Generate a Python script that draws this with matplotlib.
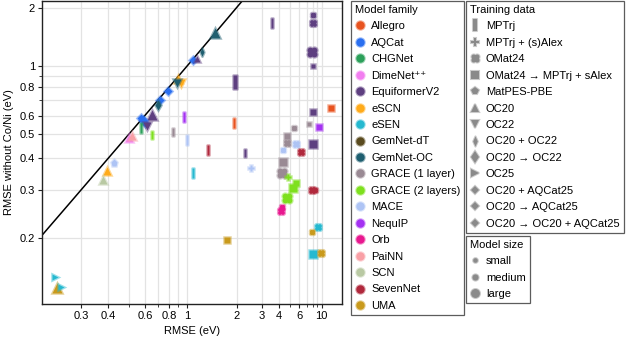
import numpy as np
import matplotlib
matplotlib.use('Agg')
import matplotlib.pyplot as plt
from matplotlib.path import Path
from matplotlib.lines import Line2D
from matplotlib.colors import to_rgba
import matplotlib.ticker as mticker

plt.rcParams['font.family'] = ['Liberation Sans', 'DejaVu Sans']
plt.rcParams['font.size'] = 8

# ---------------- data ----------------
families = ['Allegro', 'AQCat', 'CHGNet', 'DimeNet\u207a\u207a', 'EquiformerV2', 'eSCN', 'eSEN',
            'GemNet-dT', 'GemNet-OC', 'GRACE (1 layer)', 'GRACE (2 layers)', 'MACE',
            'NequIP', 'Orb', 'PaiNN', 'SCN', 'SevenNet', 'UMA']
family_colors = ['#e8531f', '#2a6ff0', '#2ca05a', '#f27ef0', '#5e3f80', '#ffab1a', '#25b9d0',
                 '#5a4b1f', '#1f5f70', '#9a8a94', '#7ee01e', '#aec4f5',
                 '#a431f2', '#e8188f', '#f9a0a6', '#b9c9a3', '#b0283c', '#c99a1c']

training_sets = ['MPTrj', 'MPTrj + (s)Alex', 'OMat24', 'OMat24 \u2192 MPTrj + sAlex', 'MatPES-PBE',
                 'OC20', 'OC22', 'OC20 + OC22', 'OC20 \u2192 OC22', 'OC25', 'OC20 + AQCat25',
                 'OC20 \u2192 AQCat25', 'OC20 \u2192 OC20 + AQCat25']
model_sizes = ['small', 'medium', 'large']

pt_family = ['GemNet-OC', 'GemNet-OC', 'AQCat', 'EquiformerV2', 'eSCN', 'eSCN', 'GemNet-OC',
             'AQCat', 'AQCat', 'GemNet-OC', 'EquiformerV2', 'AQCat', 'AQCat', 'AQCat',
             'EquiformerV2', 'CHGNet', 'GRACE (2 layers)', 'DimeNet\u207a\u207a', 'PaiNN', 'MACE',
             'eSCN', 'SCN', 'eSEN', 'UMA', 'eSEN',
             'EquiformerV2', 'EquiformerV2', 'EquiformerV2', 'EquiformerV2', 'EquiformerV2',
             'EquiformerV2', 'Allegro', 'EquiformerV2', 'NequIP', 'Allegro', 'GRACE (1 layer)',
             'NequIP', 'GRACE (1 layer)', 'GRACE (1 layer)', 'GRACE (1 layer)', 'GRACE (1 layer)',
             'MACE', 'MACE', 'SevenNet', 'EquiformerV2', 'SevenNet', 'MACE', 'EquiformerV2',
             'MACE', 'GRACE (1 layer)', 'eSEN', 'GRACE (1 layer)', 'GRACE (2 layers)',
             'GRACE (2 layers)', 'GRACE (2 layers)', 'SevenNet', 'SevenNet', 'GRACE (2 layers)',
             'Orb', 'Orb', 'eSEN', 'UMA', 'UMA', 'eSEN', 'UMA']
pt_data = ['OC20', 'OC20 + OC22', 'OC20 \u2192 AQCat25', 'OC20', 'OC20', 'OC22', 'OC22',
           'OC20 + AQCat25', 'OC20 + AQCat25', 'OC20 \u2192 OC22', 'OC20',
           'OC20 \u2192 OC20 + AQCat25', 'OC20 \u2192 AQCat25', 'OC20 + AQCat25',
           'OC22', 'MPTrj', 'MPTrj', 'OC20', 'OC20', 'MatPES-PBE',
           'OC20', 'OC20', 'OC25', 'OC20', 'OC25',
           'MPTrj', 'OMat24', 'OMat24', 'OMat24', 'OMat24 \u2192 MPTrj + sAlex',
           'MPTrj', 'OMat24 \u2192 MPTrj + sAlex', 'OMat24 \u2192 MPTrj + sAlex', 'MPTrj', 'MPTrj',
           'OMat24 \u2192 MPTrj + sAlex',
           'OMat24 \u2192 MPTrj + sAlex', 'OMat24', 'MPTrj', 'OMat24 \u2192 MPTrj + sAlex', 'OMat24',
           'OMat24', 'MPTrj', 'MPTrj', 'OMat24 \u2192 MPTrj + sAlex', 'OMat24', 'OMat24', 'MPTrj',
           'MPTrj + (s)Alex', 'OMat24 \u2192 MPTrj + sAlex', 'MPTrj', 'OMat24', 'MPTrj + (s)Alex',
           'OMat24 \u2192 MPTrj + sAlex', 'OMat24 \u2192 MPTrj + sAlex', 'OMat24', 'OMat24', 'OMat24',
           'OMat24', 'OMat24', 'OMat24', 'OMat24', 'OMat24 \u2192 MPTrj + sAlex',
           'OMat24 \u2192 MPTrj + sAlex', 'OMat24']
pt_size = ['large', 'medium', 'medium', 'small', 'medium', 'medium', 'medium',
           'medium', 'medium', 'medium', 'large', 'medium', 'medium', 'medium',
           'medium', 'medium', 'small', 'medium', 'medium', 'medium',
           'medium', 'medium', 'medium', 'large', 'medium',
           'medium', 'small', 'medium', 'large', 'small',
           'large', 'medium', 'medium', 'medium', 'medium', 'small',
           'medium', 'small', 'small', 'medium', 'medium',
           'medium', 'medium', 'medium', 'large', 'medium', 'small', 'small',
           'medium', 'large', 'medium', 'large', 'medium',
           'large', 'medium', 'medium', 'small', 'large',
           'medium', 'small', 'medium', 'small', 'medium', 'large', 'medium']
rmse = [1.46, 1.22, 1.08, 1.14, 0.90, 0.93, 0.88,
        0.795, 0.717, 0.70, 0.649, 0.59, 0.60, 0.575,
        0.614, 0.575, 0.649, 0.50, 0.52, 0.427,
        0.392, 0.376, 0.231, 0.235, 0.245,
        3.54, 8.04, 8.04, 7.9, 8.16,
        1.95, 12.8, 8.04, 0.97, 1.93, 7.43,
        9.33, 5.37, 0.84, 4.65, 4.65,
        5.57, 1.0, 1.33, 8.04, 6.17, 4.32, 2.28,
        2.5, 4.32, 1.08, 4.27, 4.81,
        5.31, 5.6, 7.9, 8.4, 4.65,
        4.19, 4.25, 9.2, 7.9, 1.73, 8.04, 9.84]
rmse_wo = [1.46, 1.175, 1.07, 1.09, 0.87, 0.835, 0.84,
           0.773, 0.70, 0.666, 0.604, 0.575, 0.56, 0.585,
           0.542, 0.53, 0.497, 0.482, 0.49, 0.384,
           0.357, 0.327, 0.146, 0.1336, 0.1347,
           1.64, 1.82, 1.64, 1.175, 1.0,
           0.847, 0.65, 0.623, 0.594, 0.56, 0.551,
           0.534, 0.53, 0.509, 0.492, 0.459,
           0.457, 0.474, 0.43, 0.457, 0.424, 0.43, 0.418,
           0.364, 0.387, 0.348, 0.348, 0.338,
           0.305, 0.32, 0.30, 0.30, 0.279,
           0.251, 0.258, 0.218, 0.209, 0.197, 0.175, 0.176]

x_major = [0.3, 0.4, 0.6, 0.8, 1, 2, 3, 4, 6, 10]
x_minor = [0.5, 0.7, 0.9, 5, 7, 8, 9]
y_major = [0.2, 0.3, 0.4, 0.5, 0.6, 0.8, 1, 2]
y_minor = [0.7, 0.9]

# ---------------- styles ----------------
bar_path = Path([(-0.3, -1), (0.3, -1), (0.3, 1), (-0.3, 1), (-0.3, -1)],
                [Path.MOVETO, Path.LINETO, Path.LINETO, Path.LINETO, Path.CLOSEPOLY])
lobes = []
for ang in [45, 135, 225, 315]:
    a = np.deg2rad(ang)
    lobes.append(Path.circle((0.45 * np.cos(a), 0.45 * np.sin(a)), 0.42))
lobes.append(Path.circle((0, 0), 0.45))
quad_path = Path.make_compound_path(*lobes)
thin_d = Path([(0, -1), (0.45, 0), (0, 1), (-0.45, 0), (0, -1)],
              [Path.MOVETO, Path.LINETO, Path.LINETO, Path.LINETO, Path.CLOSEPOLY])

marker_of = {
    'MPTrj': bar_path, 'MPTrj + (s)Alex': 'P', 'OMat24': quad_path,
    'OMat24 \u2192 MPTrj + sAlex': 's', 'MatPES-PBE': 'p', 'OC20': '^', 'OC22': 'v',
    'OC20 + OC22': thin_d, 'OC20 \u2192 OC22': 'd', 'OC25': '>', 'OC20 + AQCat25': 'D',
    'OC20 \u2192 AQCat25': 'D', 'OC20 \u2192 OC20 + AQCat25': 'D'}
scale_of = {'MPTrj': 1.55, 'MPTrj + (s)Alex': 1.1, 'OMat24': 1.1,
            'OMat24 \u2192 MPTrj + sAlex': 1.0, 'MatPES-PBE': 1.15, 'OC20': 1.2, 'OC22': 1.2,
            'OC20 + OC22': 1.4, 'OC20 \u2192 OC22': 1.2, 'OC25': 1.1, 'OC20 + AQCat25': 0.85,
            'OC20 \u2192 AQCat25': 0.85, 'OC20 \u2192 OC20 + AQCat25': 0.85}
ms_of = {'small': 3.3, 'medium': 4.4, 'large': 6.4}
color_of = dict(zip(families, family_colors))


def halo(c, a=0.45):
    r, g, b, _ = to_rgba(c)
    return (r, g, b, a)


# ---------------- scale ----------------
def make_scale(r):
    def fwd(v):
        u = np.log(np.clip(v, 1e-6, None))
        return u - r * u * u

    def inv(g):
        d = np.clip(1 - 4 * r * np.asarray(g), 1e-12, None)
        return np.exp((1 - np.sqrt(d)) / (2 * r))
    return fwd, inv


fig = plt.figure(figsize=(6.4, 3.58), dpi=100)
ax = fig.add_axes([42 / 640, 1 - 303.7 / 358, (341.7 - 42) / 640, (303.7 - 0.8) / 358])
ax.set_xscale('function', functions=make_scale(0.1071))
ax.set_yscale('function', functions=make_scale(0.1016))
ax.set_xlim(0.204, 17.8)
ax.set_ylim(0.1186, 2.18)

ax.xaxis.set_major_locator(mticker.FixedLocator(x_major))
ax.xaxis.set_minor_locator(mticker.FixedLocator(x_minor))
ax.yaxis.set_major_locator(mticker.FixedLocator(y_major))
ax.yaxis.set_minor_locator(mticker.FixedLocator(y_minor))
ax.xaxis.set_major_formatter(mticker.FormatStrFormatter('%g'))
ax.yaxis.set_major_formatter(mticker.FormatStrFormatter('%g'))
ax.xaxis.set_minor_formatter(mticker.NullFormatter())
ax.yaxis.set_minor_formatter(mticker.NullFormatter())
ax.grid(True, which='both', color='#e3e3e3', lw=0.9, zorder=0)
ax.set_axisbelow(True)
ax.tick_params(which='major', length=3, width=0.8, labelsize=8, color='#222222', pad=2)
ax.tick_params(which='minor', length=2, width=0.6, color='#222222')
for s in ax.spines.values():
    s.set_color('#222222')
    s.set_linewidth(1.0)

diag = np.geomspace(0.1, 3, 300)
ax.plot(diag, diag, color='black', lw=1.1, zorder=2)

for f, d, sz, xv, yv in zip(pt_family, pt_data, pt_size, rmse, rmse_wo):
    c = color_of[f]
    ax.plot([xv], [yv], linestyle='none', marker=marker_of[d],
            markersize=ms_of[sz] * scale_of[d], markerfacecolor=c,
            markeredgecolor=halo(c), markeredgewidth=1.8, zorder=3)

ax.set_xlabel('RMSE (eV)', fontsize=8, labelpad=4)
ax.set_ylabel('RMSE without Co/Ni (eV)', fontsize=8, labelpad=4)

# ---------------- legends ----------------
leg_kw = dict(frameon=True, fancybox=False, fontsize=8, title_fontsize=8,
              alignment='left', borderpad=0.35, labelspacing=0.58, handlelength=1.0,
              handletextpad=0.45, borderaxespad=0)

h1 = [Line2D([], [], linestyle='none', marker='o', markersize=6, markerfacecolor=c,
             markeredgecolor=halo(c), markeredgewidth=1.5) for c in family_colors]
l1 = fig.legend(h1, families, title='Model family', loc='upper left',
                bbox_to_anchor=(351 / 640, 1 - 1 / 358), **leg_kw)

h2 = [Line2D([], [], linestyle='none', marker=marker_of[t], markersize=5.2 * scale_of[t],
             markerfacecolor='#8a8a8a', markeredgecolor=halo('#8a8a8a'), markeredgewidth=1.5)
      for t in training_sets]
l2 = fig.legend(h2, training_sets, title='Training data', loc='upper left',
                bbox_to_anchor=(466 / 640, 1 - 1 / 358), **leg_kw)

h3 = [Line2D([], [], linestyle='none', marker='o', markersize=ms_of[s], markerfacecolor='#8a8a8a',
             markeredgecolor=halo('#8a8a8a'), markeredgewidth=1.5) for s in model_sizes]
l3 = fig.legend(h3, model_sizes, title='Model size', loc='upper left',
                bbox_to_anchor=(466 / 640, 1 - 236 / 358), **leg_kw)

for lg in (l1, l2, l3):
    fr = lg.get_frame()
    fr.set_edgecolor('#333333')
    fr.set_linewidth(0.9)

fig.savefig('out.png', dpi=100)
